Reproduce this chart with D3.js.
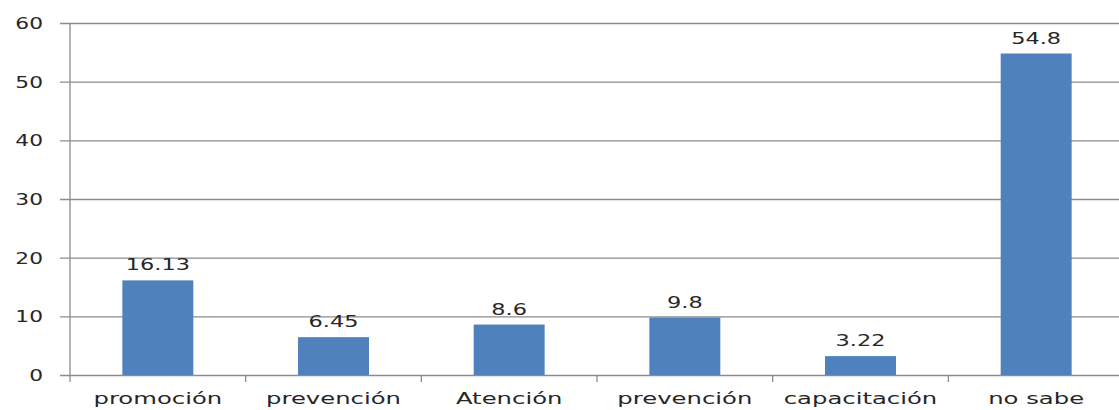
<!DOCTYPE html>
<html>
<head>
<meta charset="utf-8">
<script src="https://cdn.jsdelivr.net/npm/d3@7"></script>
<style>
  body { margin: 0; background: #fff; }
  text { font-family: "DejaVu Sans", Verdana, sans-serif; fill: #262626; }
</style>
</head>
<body>
<div id="vis"></div>
<script>
// chart data
const categories = ["promoción", "prevención", "Atención", "prevención", "capacitación", "no sabe"];
const values = [16.13, 6.45, 8.6, 9.8, 3.22, 54.8];
const valueLabels = ["16.13", "6.45", "8.6", "9.8", "3.22", "54.8"];
const yTicks = [0, 10, 20, 30, 40, 50, 60];

var width = 1119, height = 410;
var plot = { left: 70, right: 1124, top: 23, bottom: 375 };

const svg = d3.select("#vis")
    .append("svg")
    .attr("width", width)
    .attr("height", height);

const x = d3.scaleBand()
    .domain(d3.range(categories.length))
    .range([plot.left, plot.right])
    .padding(0);

const y = d3.scaleLinear()
    .domain([0, 60])
    .range([plot.bottom, plot.top]);

// y axis + gridlines
const yAxis = svg.append("g")
    .attr("transform", `translate(${plot.left},0)`)
    .call(d3.axisLeft(y).tickValues(yTicks).tickSizeInner(-(width - plot.left)).tickSizeOuter(0).tickPadding(27));

yAxis.select(".domain").remove();
yAxis.selectAll(".tick line")
    .attr("x1", -10)
    .attr("stroke", "#8c8c8c")
    .attr("stroke-width", 1.3);
yAxis.selectAll(".tick text")
    .attr("x", null)
    .attr("dy", null)
    .attr("y", 5.5)
    .attr("transform", "translate(-27,0) scale(1.45,1)")
    .style("font-size", "15px")
    .style("font-family", "'DejaVu Sans', Verdana, sans-serif")
    .attr("fill", "#262626");

// vertical axis line
svg.append("line")
    .attr("x1", plot.left).attr("x2", plot.left)
    .attr("y1", plot.top).attr("y2", plot.bottom + 7)
    .attr("stroke", "#8c8c8c")
    .attr("stroke-width", 1.3);

// x axis: ticks at band boundaries
const xAxis = svg.append("g")
    .attr("transform", `translate(0,${plot.bottom})`)
    .call(d3.axisBottom(x).tickSize(0).tickFormat(i => categories[i]));
xAxis.select(".domain").remove();
xAxis.selectAll(".tick text")
    .attr("dy", null)
    .attr("y", 29)
    .attr("transform", "scale(1.52,1)")
    .style("font-size", "16px")
    .style("font-family", "'DejaVu Sans', Verdana, sans-serif")
    .attr("fill", "#262626");
xAxis.selectAll(".bound")
    .data(d3.range(1, categories.length))
    .join("line")
    .attr("class", "bound")
    .attr("x1", i => x(i)).attr("x2", i => x(i))
    .attr("y1", 0).attr("y2", 7)
    .attr("stroke", "#8c8c8c")
    .attr("stroke-width", 1.3);

// bars
const barW = x.bandwidth() * 0.404;
svg.selectAll("rect.bar")
    .data(values)
    .join("rect")
    .attr("class", "bar")
    .attr("x", (d, i) => x(i) + x.bandwidth() / 2 - barW / 2)
    .attr("y", d => y(d))
    .attr("width", barW)
    .attr("height", d => y(0) - y(d))
    .attr("fill", "#4f81bd");

// value labels
svg.selectAll("text.val")
    .data(values)
    .join("text")
    .attr("class", "val")
    .attr("text-anchor", "middle")
    .attr("transform", (d, i) => `translate(${x(i) + x.bandwidth() / 2},${y(d) - 10}) scale(1.4,1)`)
    .style("font-size", "16px")
    .text((d, i) => valueLabels[i]);
</script>
</body>
</html>
